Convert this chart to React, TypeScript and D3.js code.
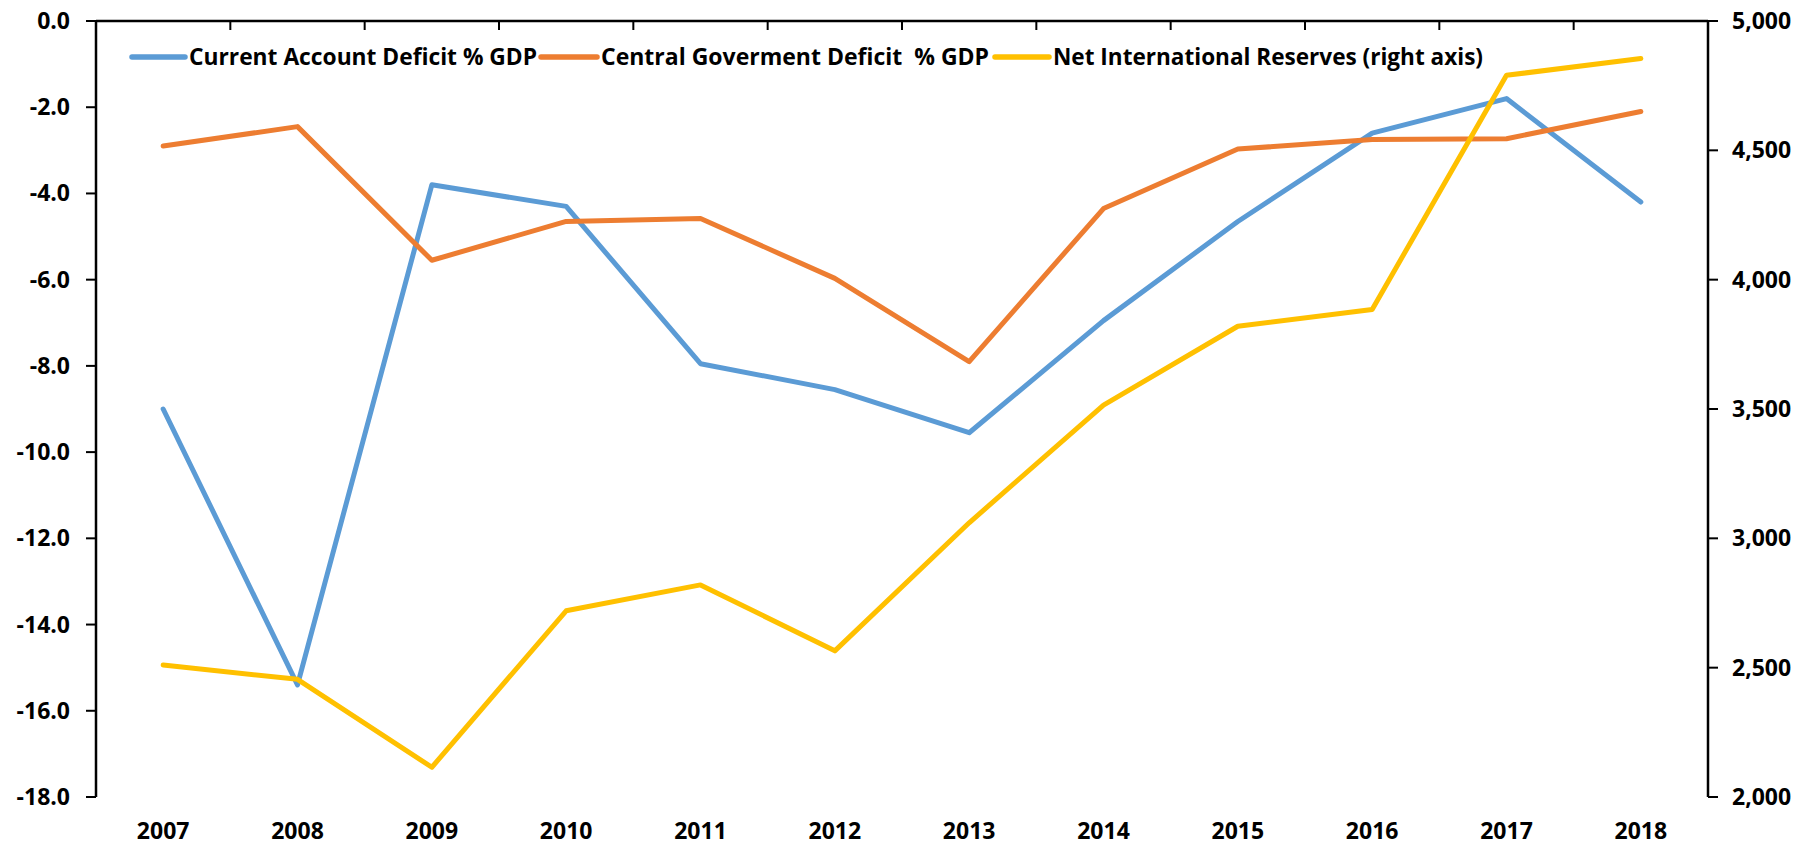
import React from "react";
import * as d3 from "d3";

const years = ["2007","2008","2009","2010","2011","2012","2013","2014","2015","2016","2017","2018"];
const currentAccount = [-9.0,-15.4,-3.8,-4.3,-7.95,-8.55,-9.55,-6.95,-4.65,-2.6,-1.8,-4.2];
const centralGov = [-2.9,-2.45,-5.55,-4.65,-4.58,-5.97,-7.9,-4.35,-2.97,-2.75,-2.73,-2.1];
const reserves = [2510,2455,2115,2720,2820,2565,3060,3515,3820,3885,4790,4855];
const leftTicks = [0,-2,-4,-6,-8,-10,-12,-14,-16,-18];
const rightTicks = [2000,2500,3000,3500,4000,4500,5000];
const seriesNames = ["Current Account Deficit % GDP","Central Goverment Deficit  % GDP","Net International Reserves (right axis)"];
const colors = ["#5B9BD5","#ED7D31","#FFC000"];

const W = 1812, H = 847;
const L = 96, R = 1708, T = 21, B = 797;
const FONT = "'Open Sans', sans-serif";

export default function App() {
  const x = d3.scaleBand<string>().domain(years).range([L, R]);
  const yL = d3.scaleLinear().domain([-18, 0]).range([B, T]);
  const yR = d3.scaleLinear().domain([2000, 5000]).range([B, T]);
  const cx = (d: string) => (x(d) as number) + x.bandwidth() / 2;
  const lineL = d3.line<number>().x((_, i) => cx(years[i])).y((v) => yL(v));
  const lineR = d3.line<number>().x((_, i) => cx(years[i])).y((v) => yR(v));
  const boundaries = d3.range(years.length + 1).map((i) => L + i * x.bandwidth());

  const legend = [
    { x1: 132, x2: 185, tx: 189, tw: 348 },
    { x1: 541, x2: 597, tx: 601, tw: 388 },
    { x1: 995, x2: 1049, tx: 1053, tw: 430 },
  ];

  return (
    <svg width={W} height={H} style={{ display: "block", position: "absolute", left: 0, top: 0, background: "#fff" }}>
      <rect x={0} y={0} width={W} height={H} fill="#fff" />
      {/* top category axis */}
      <line x1={L} x2={R} y1={T} y2={T} stroke="#000" strokeWidth={2.5} />
      {boundaries.map((bx, i) => (
        <line key={"bt" + i} x1={bx} x2={bx} y1={T} y2={T + 9} stroke="#000" strokeWidth={2} />
      ))}
      {/* left axis */}
      <line x1={L} x2={L} y1={T} y2={B} stroke="#000" strokeWidth={2.5} />
      {leftTicks.map((t) => (
        <g key={"l" + t}>
          <line x1={L - 10} x2={L} y1={yL(t)} y2={yL(t)} stroke="#000" strokeWidth={2} />
          <text x={L - 26} y={yL(t)} dy="0.35em" textAnchor="end" fontFamily={FONT} fontWeight={700} fontSize={23} fill="#000">
            {d3.format(".1f")(t).replace("−", "-")}
          </text>
        </g>
      ))}
      {/* right axis */}
      <line x1={R} x2={R} y1={T} y2={B} stroke="#000" strokeWidth={2.5} />
      {rightTicks.map((t) => (
        <g key={"r" + t}>
          <line x1={R} x2={R + 10} y1={yR(t)} y2={yR(t)} stroke="#000" strokeWidth={2} />
          <text x={R + 24} y={yR(t)} dy="0.35em" textAnchor="start" fontFamily={FONT} fontWeight={700} fontSize={23} fill="#000">
            {d3.format(",")(t)}
          </text>
        </g>
      ))}
      {/* x labels */}
      {years.map((yr) => (
        <text key={yr} x={cx(yr)} y={831} dy="0.35em" textAnchor="middle" fontFamily={FONT} fontWeight={700} fontSize={23} fill="#000">
          {yr}
        </text>
      ))}
      {/* lines */}
      <path d={lineL(currentAccount) || ""} fill="none" stroke={colors[0]} strokeWidth={5} strokeLinejoin="round" strokeLinecap="round" />
      <path d={lineL(centralGov) || ""} fill="none" stroke={colors[1]} strokeWidth={5} strokeLinejoin="round" strokeLinecap="round" />
      <path d={lineR(reserves) || ""} fill="none" stroke={colors[2]} strokeWidth={5} strokeLinejoin="round" strokeLinecap="round" />
      {/* legend */}
      {legend.map((lg, i) => (
        <g key={"lg" + i}>
          <line x1={lg.x1} x2={lg.x2} y1={57} y2={57} stroke={colors[i]} strokeWidth={5.5} strokeLinecap="round" />
          <text x={lg.tx} y={57} dy="0.35em" fontFamily={FONT} fontWeight={700} fontSize={24} fill="#000" textLength={lg.tw} lengthAdjust="spacingAndGlyphs" xmlSpace="preserve" style={{ whiteSpace: "pre" }}>
            {seriesNames[i]}
          </text>
        </g>
      ))}
    </svg>
  );
}
